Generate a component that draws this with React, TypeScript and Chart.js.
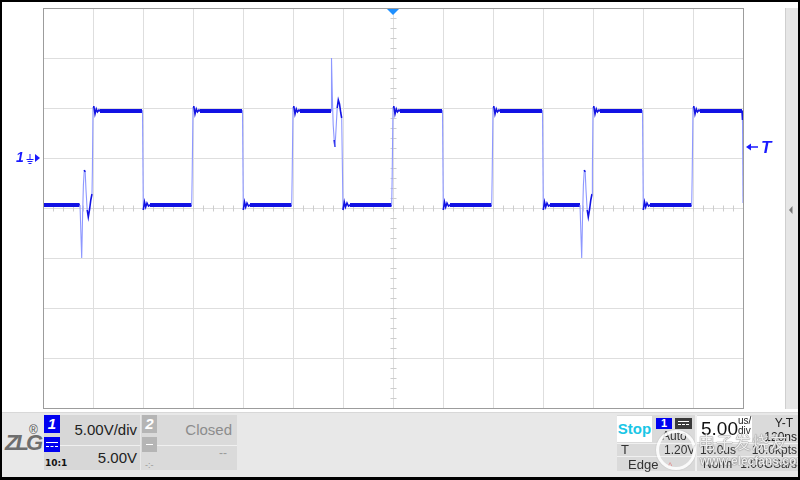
import React, { useEffect, useRef } from "react";
import { Chart, registerables } from "chart.js";

Chart.register(...registerables);

// Time axis (µs): 14 divisions of 5 µs/div, trigger at 0
const timeMin = -35;
const timeMax = 35;
const timeStep = 5;
// Voltage axis (V): 8 divisions of 5 V/div, channel 1 ground at 0 V
const voltMin = -25;
const voltMax = 15;
const voltStep = 5;
const centreTime = 0;
const centreVolt = -5;

// Channel 1 trace: edges, ringing and glitches (time µs, volts)
const traceTime = [
  -35.0,
  -31.3, -31.13, -31.04, -30.96, -30.87, -30.78, -30.7, -30.58, -30.47, -30.35, -30.22, -30.1, -30.06, -30.0, -29.92, -29.8, -29.67, -29.55, -29.4, -29.3,
  -25.05, -24.97, -24.85, -24.73, -24.6, -24.45, -24.3,
  -20.13, -20.08, -20.0, -19.92, -19.8, -19.67, -19.55, -19.4, -19.3,
  -15.05, -14.97, -14.85, -14.73, -14.6, -14.45, -14.3,
  -10.13, -10.08, -10.0, -9.92, -9.8, -9.67, -9.55, -9.4, -9.3,
  -6.2, -6.15, -6.07, -5.98, -5.88, -5.8, -5.7, -5.58, -5.47, -5.35, -5.22, -5.13, -5.07, -5.0, -4.87, -4.75, -4.6, -4.45, -4.3,
  -0.13, -0.08, 0.0, 0.08, 0.2, 0.33, 0.45, 0.6, 0.7,
  4.95, 5.03, 5.15, 5.27, 5.4, 5.55, 5.7,
  9.87, 9.92, 10.0, 10.08, 10.2, 10.33, 10.45, 10.6, 10.7,
  14.95, 15.03, 15.15, 15.27, 15.4, 15.55, 15.7,
  18.7, 18.87, 18.96, 19.04, 19.13, 19.22, 19.3, 19.42, 19.53, 19.65, 19.78, 19.9, 19.94, 20.0, 20.08, 20.2, 20.33, 20.45, 20.6, 20.7,
  24.95, 25.03, 25.15, 25.27, 25.4, 25.55, 25.7,
  29.87, 29.92, 30.0, 30.08, 30.2, 30.33, 30.45, 30.6, 30.7,
  34.9, 34.95, 35.0,
];
const traceVolt = [
  -4.7,
  -4.7, -10.0, -5.7, -2.7, -1.2, -1.4, -3.2, -5.2, -5.9, -5.2, -4.2, -3.6, -1.2, 5.1, 5.2, 4.4, 4.9, 4.6, 4.8, 4.7,
  4.7, -5.2, -4.4, -4.9, -4.5, -4.8, -4.7,
  -4.7, -1.7, 5.1, 5.2, 4.4, 4.9, 4.6, 4.8, 4.7,
  4.7, -5.2, -4.4, -4.9, -4.5, -4.8, -4.7,
  -4.7, -1.7, 5.1, 5.2, 4.4, 4.9, 4.6, 4.8, 4.7,
  4.7, 10.0, 6.3, 3.3, 1.8, 1.1, 2.8, 5.0, 5.8, 5.4, 4.5, 4.0, -0.2, -5.2, -4.4, -4.9, -4.5, -4.8, -4.7,
  -4.7, -1.7, 5.1, 5.2, 4.4, 4.9, 4.6, 4.8, 4.7,
  4.7, -5.2, -4.4, -4.9, -4.5, -4.8, -4.7,
  -4.7, -1.7, 5.1, 5.2, 4.4, 4.9, 4.6, 4.8, 4.7,
  4.7, -5.2, -4.4, -4.9, -4.5, -4.8, -4.7,
  -4.7, -10.0, -5.7, -2.7, -1.2, -1.4, -3.2, -5.2, -5.9, -5.2, -4.2, -3.6, -1.2, 5.1, 5.2, 4.4, 4.9, 4.6, 4.8, 4.7,
  4.7, -5.2, -4.4, -4.9, -4.5, -4.8, -4.7,
  -4.7, -1.7, 5.1, 5.2, 4.4, 4.9, 4.6, 4.8, 4.7,
  4.7, 3.8, -4.5,
];

// Flat (noisy) levels drawn as a thick band
const levelStart = [-35.0, -29.3, -24.3, -19.3, -14.3, -9.3, -4.3, 0.7, 5.7, 10.7, 15.7, 20.7, 25.7, 30.7];
const levelEnd = [-31.35, -25.1, -20.15, -15.1, -10.15, -6.2, -0.15, 4.9, 9.85, 14.9, 18.7, 24.9, 29.85, 34.9];
const levelVolt = [-4.7, 4.7, -4.7, 4.7, -4.7, 4.7, -4.7, 4.7, -4.7, 4.7, -4.7, 4.7, -4.7, 4.7];

const DARK = "#1212e4";
const LIGHT = "#8d97ff";
const UI_FONT = "'Liberation Sans', Arial, sans-serif";

const scopeGrid = {
  id: "scopeGrid",
  beforeDatasetsDraw(chart: any) {
    const { ctx, scales } = chart;
    const xs = scales.x;
    const ys = scales.y;
    const cy = Math.round(ys.getPixelForValue(centreVolt)) + 0.5;
    const cx = Math.round(xs.getPixelForValue(centreTime)) + 0.5;
    ctx.save();
    ctx.strokeStyle = "#cdcdcd";
    ctx.lineWidth = 1;
    ctx.beginPath();
    for (let t = timeMin; t <= timeMax; t += 1) {
      const px = Math.round(xs.getPixelForValue(t)) + 0.5;
      ctx.moveTo(px, cy - 3);
      ctx.lineTo(px, cy + 3);
    }
    for (let v = voltMin; v <= voltMax; v += 1) {
      const py = Math.round(ys.getPixelForValue(v)) + 0.5;
      ctx.moveTo(cx - 3, py);
      ctx.lineTo(cx + 3, py);
    }
    ctx.stroke();
    ctx.restore();
  },
  afterDatasetsDraw(chart: any) {
    const { ctx, chartArea } = chart;
    ctx.save();
    ctx.strokeStyle = "#9c9c9c";
    ctx.lineWidth = 1;
    ctx.strokeRect(chartArea.left + 0.5, chartArea.top + 0.5, chartArea.right - chartArea.left, chartArea.bottom - chartArea.top);
    ctx.restore();
  },
};

const abs = (left: number, top: number, extra: any = {}): any => ({ position: "absolute", left, top, ...extra });

function Txt({ l, t, w, align, size, color, weight, italic, family, children, lh }: any) {
  return (
    <div
      style={abs(l, t, {
        width: w,
        textAlign: align || "left",
        fontSize: size || 13,
        lineHeight: (lh || (size || 13) + 3) + "px",
        color: color || "#222",
        fontWeight: weight || "normal",
        fontStyle: italic ? "italic" : "normal",
        fontFamily: family || UI_FONT,
        whiteSpace: "nowrap",
      })}
    >
      {children}
    </div>
  );
}

export default function App() {
  const ref = useRef<HTMLCanvasElement | null>(null);

  useEffect(() => {
    if (!ref.current) return;
    const tracePoints = traceTime.map((t, i) => ({ x: t, y: traceVolt[i] }));
    const levelSets = levelStart.map((s, i) => ({
      data: [
        { x: s, y: levelVolt[i] },
        { x: levelEnd[i], y: levelVolt[i] },
      ],
      showLine: true,
      borderColor: DARK,
      borderWidth: 4,
      pointRadius: 0,
      borderCapStyle: "butt",
    }));
    const chart = new Chart(ref.current, {
      type: "scatter",
      data: {
        datasets: [
          {
            data: tracePoints,
            showLine: true,
            pointRadius: 0,
            borderWidth: 1.2,
            borderColor: DARK,
            segment: {
              borderColor: (c: any) => (Math.abs(c.p1.y - c.p0.y) > 12 ? LIGHT : DARK),
              borderWidth: (c: any) => (Math.abs(c.p1.y - c.p0.y) > 12 ? 1.1 : 1.6),
            },
          } as any,
          ...(levelSets as any),
        ],
      },
      options: {
        animation: false,
        responsive: false,
        maintainAspectRatio: false,
        layout: { padding: { left: 43, top: 8, right: 57, bottom: 72 } },
        plugins: { legend: { display: false }, tooltip: { enabled: false } },
        scales: {
          x: {
            type: "linear",
            min: timeMin,
            max: timeMax,
            ticks: { display: false, stepSize: timeStep },
            grid: { color: "#dedede", drawTicks: false },
            border: { display: false },
          },
          y: {
            type: "linear",
            min: voltMin,
            max: voltMax,
            ticks: { display: false, stepSize: voltStep },
            grid: { color: "#dedede", drawTicks: false },
            border: { display: false },
          },
        },
      },
      plugins: [scopeGrid],
    });
    return () => chart.destroy();
  }, []);

  return (
    <div style={{ position: "fixed", left: 0, top: 0, width: 800, height: 480, background: "#fff", overflow: "hidden", fontFamily: UI_FONT }}>
      <canvas ref={ref} width={800} height={480} style={{ position: "absolute", left: 0, top: 0 }} />

      {/* right side strip */}
      <div style={abs(785, 8, { width: 13, height: 401, background: "#e6e6e6", borderLeft: "1px solid #cfcfcf", boxSizing: "border-box" })} />

      {/* bottom panel */}
      <div style={abs(2, 412, { width: 796, height: 65, background: "#e8e8e8", borderTop: "1px solid #d8d8d8", boxSizing: "border-box" })} />

      {/* logo */}
      <Txt l={5} t={431} size={22} weight="bold" italic color="#6e6e6e" lh={24}>
        <span style={{ letterSpacing: -3 }}>ZLG</span>
      </Txt>
      <Txt l={29} t={424} size={12} color="#555" lh={12}>®</Txt>

      {/* channel 1 */}
      <div style={abs(44, 415, { width: 96, height: 55, background: "#d7d7d7" })} />
      <div style={abs(60, 445, { width: 80, height: 1, background: "#f0f0f0" })} />
      <div style={abs(44, 415, { width: 16, height: 18, background: "#0000f0" })} />
      <Txt l={44} t={415} w={16} align="center" size={15} lh={18} color="#fff" weight="bold" italic>1</Txt>
      <div style={abs(44, 437, { width: 16, height: 15, background: "#0000f0" })}>
        <div style={abs(2, 5, { width: 12, height: 1, background: "#fff" })} />
        <div style={abs(2, 9, { width: 12, height: 0, borderTop: "1px dashed #fff" })} />
      </div>
      <Txt l={45} t={458} size={9} lh={11} weight="bold" color="#111" family="'DejaVu Sans', sans-serif">10:1</Txt>
      <Txt l={60} t={421} w={77} align="right" size={15} lh={18} color="#222">5.00V/div</Txt>
      <Txt l={60} t={449} w={77} align="right" size={15} lh={18} color="#222">5.00V</Txt>

      {/* channel 2 */}
      <div style={abs(141, 415, { width: 96, height: 55, background: "#dadada" })} />
      <div style={abs(157, 445, { width: 80, height: 1, background: "#f0f0f0" })} />
      <div style={abs(142, 415, { width: 15, height: 18, background: "#b5b5b5" })} />
      <Txt l={142} t={415} w={15} align="center" size={15} lh={18} color="#fff" weight="bold" italic>2</Txt>
      <div style={abs(142, 437, { width: 15, height: 15, background: "#b5b5b5" })}>
        <div style={abs(4, 7, { width: 7, height: 1, background: "#fff" })} />
      </div>
      <Txt l={157} t={421} w={75} align="right" size={15} lh={18} color="#8c8c8c">Closed</Txt>
      <Txt l={157} t={446} w={70} align="right" size={12} lh={14} color="#9a9a9a">--</Txt>
      <Txt l={145} t={460} size={9} lh={11} color="#999">-:-</Txt>

      {/* trigger / timebase section */}
      <div style={abs(617, 415, { width: 181, height: 56, background: "#dadada" })} />
      <div style={abs(695, 415, { width: 2, height: 56, background: "#efefef" })} />
      <div style={abs(617, 443, { width: 78, height: 1, background: "#f0f0f0" })} />
      <div style={abs(617, 456, { width: 78, height: 1, background: "#f0f0f0" })} />
      <div style={abs(697, 443, { width: 101, height: 1, background: "#f0f0f0" })} />
      <div style={abs(697, 456, { width: 101, height: 1, background: "#f0f0f0" })} />
      <div style={abs(617, 416, { width: 35, height: 26, background: "#fff" })} />
      <Txt l={617} t={416} w={35} align="center" size={15} lh={26} weight="bold" color="#19c6e6">Stop</Txt>
      <div style={abs(656, 418, { width: 16, height: 11, background: "#0000f0" })} />
      <Txt l={656} t={417} w={16} align="center" size={11} lh={12} weight="bold" color="#fff">1</Txt>
      <div style={abs(675, 418, { width: 17, height: 11, background: "#3a3a3a" })}>
        <div style={abs(3, 3, { width: 11, height: 1, background: "#fff" })} />
        <div style={abs(3, 6, { width: 11, height: 0, borderTop: "1px dashed #fff" })} />
      </div>
      <Txt l={662} t={429} size={12} lh={14} color="#333">Auto</Txt>
      <Txt l={621} t={443} size={13} lh={14} color="#333">T</Txt>
      <Txt l={664} t={443} size={12} lh={14} color="#333">1.20V</Txt>
      <Txt l={628} t={457} size={13} lh={15} color="#333">Edge</Txt>
      <Txt l={668} t={461} size={9} lh={10} color="#e08a8a">^</Txt>

      <div style={abs(697, 416, { width: 55, height: 26, background: "#fff" })} />
      <Txt l={701} t={418} size={19} lh={22} color="#111">5.00</Txt>
      <Txt l={738} t={416} size={10} lh={10} color="#222">us/</Txt>
      <Txt l={738} t={426} size={10} lh={10} color="#222">div</Txt>
      <Txt l={755} t={416} w={38} align="right" size={12} lh={14} color="#222">Y-T</Txt>
      <Txt l={753} t={430} w={44} align="right" size={12} lh={14} color="#222">120ns</Txt>
      <Txt l={700} t={443} size={12} lh={14} color="#333">10.0us</Txt>
      <Txt l={745} t={443} w={52} align="right" size={12} lh={14} color="#333">10.0kpts</Txt>
      <Txt l={703} t={457} size={12} lh={14} color="#333">Norm</Txt>
      <Txt l={740} t={457} w={57} align="right" size={12} lh={14} color="#333">1.00GSa/s</Txt>

      {/* watermark */}
      <div style={abs(656, 430, { width: 40, height: 40, borderRadius: "50%", border: "3px solid rgba(255,255,255,0.85)", boxSizing: "border-box", boxShadow: "0 0 1px #999" })} />
      <Txt l={698} t={432} size={17} lh={20} color="rgba(255,255,255,0.88)" family="'Noto Sans CJK SC', sans-serif">
        <span style={{ textShadow: "0 0 1px #777, 0 0 1px #777", letterSpacing: 1 }}>电子发烧友</span>
      </Txt>
      <Txt l={700} t={455} size={12} lh={13} weight="bold" color="rgba(255,255,255,0.88)">
        <span style={{ textShadow: "0 0 1px #666, 0 0 1px #666" }}>www.elecfans.com</span>
      </Txt>

      {/* markers */}
      <Txt l={16} t={150} size={14} lh={15} weight="bold" italic color="#1a1aff">1</Txt>
      <Txt l={761} t={138} size={17} lh={19} weight="bold" italic color="#1a1aff">T</Txt>
      <svg width={800} height={480} style={{ position: "absolute", left: 0, top: 0, pointerEvents: "none" }}>
        <polygon points="387,9 399,9 393,15" fill="#1e90ff" />
        <g stroke="#1a1aff" strokeWidth={1}>
          <line x1={30} y1={154} x2={30} y2={159} />
          <line x1={26.5} y1={159.5} x2={33.5} y2={159.5} />
          <line x1={27.5} y1={161.5} x2={32.5} y2={161.5} />
          <line x1={28.5} y1={163.5} x2={31.5} y2={163.5} />
        </g>
        <polygon points="35,154 35,162 40,158" fill="#1a1aff" />
        <line x1={750} y1={147} x2={758} y2={147} stroke="#1a1aff" strokeWidth={1.5} />
        <polygon points="746,147 751,143.5 751,150.5" fill="#1a1aff" />
        <polygon points="792.5,206 792.5,214 789,210" fill="#777" />
      </svg>

      {/* outer frame */}
      <div style={abs(0, 0, { width: 800, height: 480, boxSizing: "border-box", border: "2px solid #000", borderBottomWidth: 3, pointerEvents: "none" })} />
    </div>
  );
}
